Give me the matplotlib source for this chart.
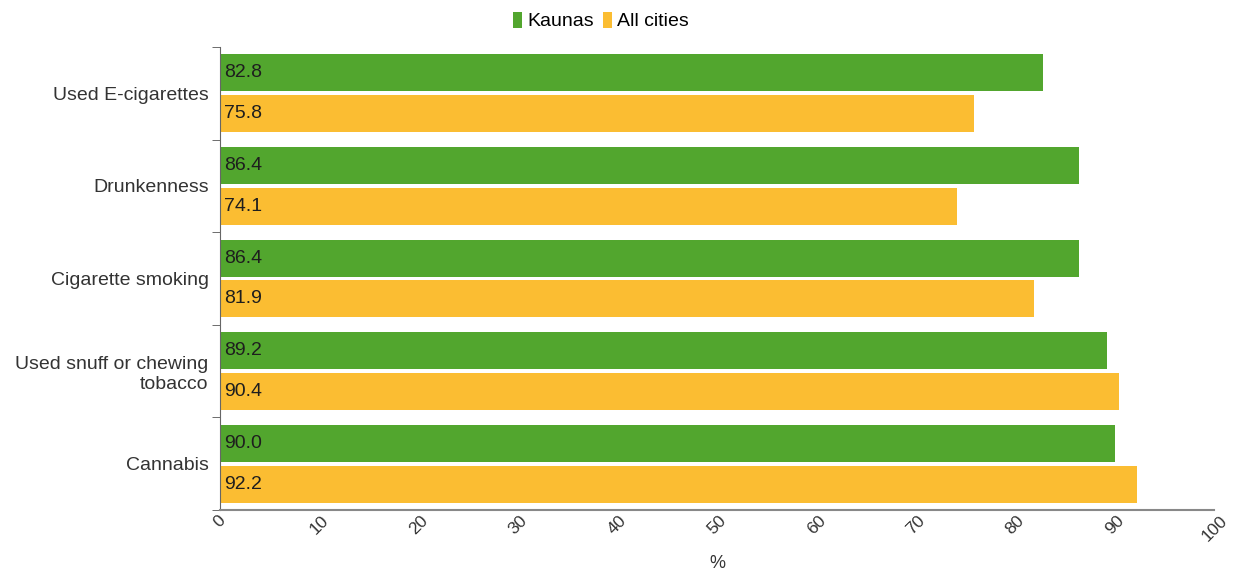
import matplotlib.pyplot as plt
import numpy as np

plt.rcParams['font.family'] = ['Liberation Sans', 'DejaVu Sans']

categories = ['Used E-cigarettes', 'Drunkenness', 'Cigarette smoking',
              'Used snuff or chewing\ntobacco', 'Cannabis']
kaunas = [82.8, 86.4, 86.4, 89.2, 90.0]
all_cities = [75.8, 74.1, 81.9, 90.4, 92.2]
x_ticks = [0, 10, 20, 30, 40, 50, 60, 70, 80, 90, 100]

green = '#52a62e'
yellow = '#fbbd32'

fig = plt.figure(figsize=(12.34, 5.77), dpi=100)
ax = fig.add_axes([0.178, 0.116, 0.806, 0.8025])

y = np.arange(len(categories))
h = 0.4
b1 = ax.barh(y - 0.2 - 0.02, kaunas, height=h, color=green, label='Kaunas')
b2 = ax.barh(y + 0.2 + 0.02, all_cities, height=h, color=yellow, label='All cities')

for bars, vals in [(b1, kaunas), (b2, all_cities)]:
    for bar, v in zip(bars, vals):
        ax.text(0.4, bar.get_y() + bar.get_height() / 2, f'{v:.1f}',
                va='center', ha='left', fontsize=14, color='#1e1e1e')

ax.set_xlim(0, 100)
ax.set_ylim(len(categories) - 0.5, -0.5)
ax.set_xticks(x_ticks)
ax.set_xticklabels([str(t) for t in x_ticks], rotation=45, ha='center',
                   va='top', fontsize=12.5, color='#333333')
ax.tick_params(axis='x', length=0, pad=2)

ax.set_yticks(y)
ax.set_yticklabels(categories, fontsize=14, color='#333333')
ax.set_yticks(np.arange(-0.5, len(categories)), minor=True)
ax.tick_params(axis='y', which='major', length=0, pad=8)
ax.tick_params(axis='y', which='minor', length=6, color='#555555', direction='out')

for s in ['top', 'right']:
    ax.spines[s].set_visible(False)
ax.spines['left'].set_color('#666666')
ax.spines['bottom'].set_color('#888888')
ax.spines['bottom'].set_linewidth(1.5)

ax.set_xlabel('%', fontsize=13, color='#333333', labelpad=8)

fig.legend(handles=[b1, b2], loc='upper center', bbox_to_anchor=(0.487, 1.0),
           ncol=2, frameon=False, fontsize=14, handlelength=0.45, handleheight=0.9,
           handletextpad=0.25, columnspacing=0.5, borderaxespad=0.2)

fig.savefig('out.png', dpi=100)
